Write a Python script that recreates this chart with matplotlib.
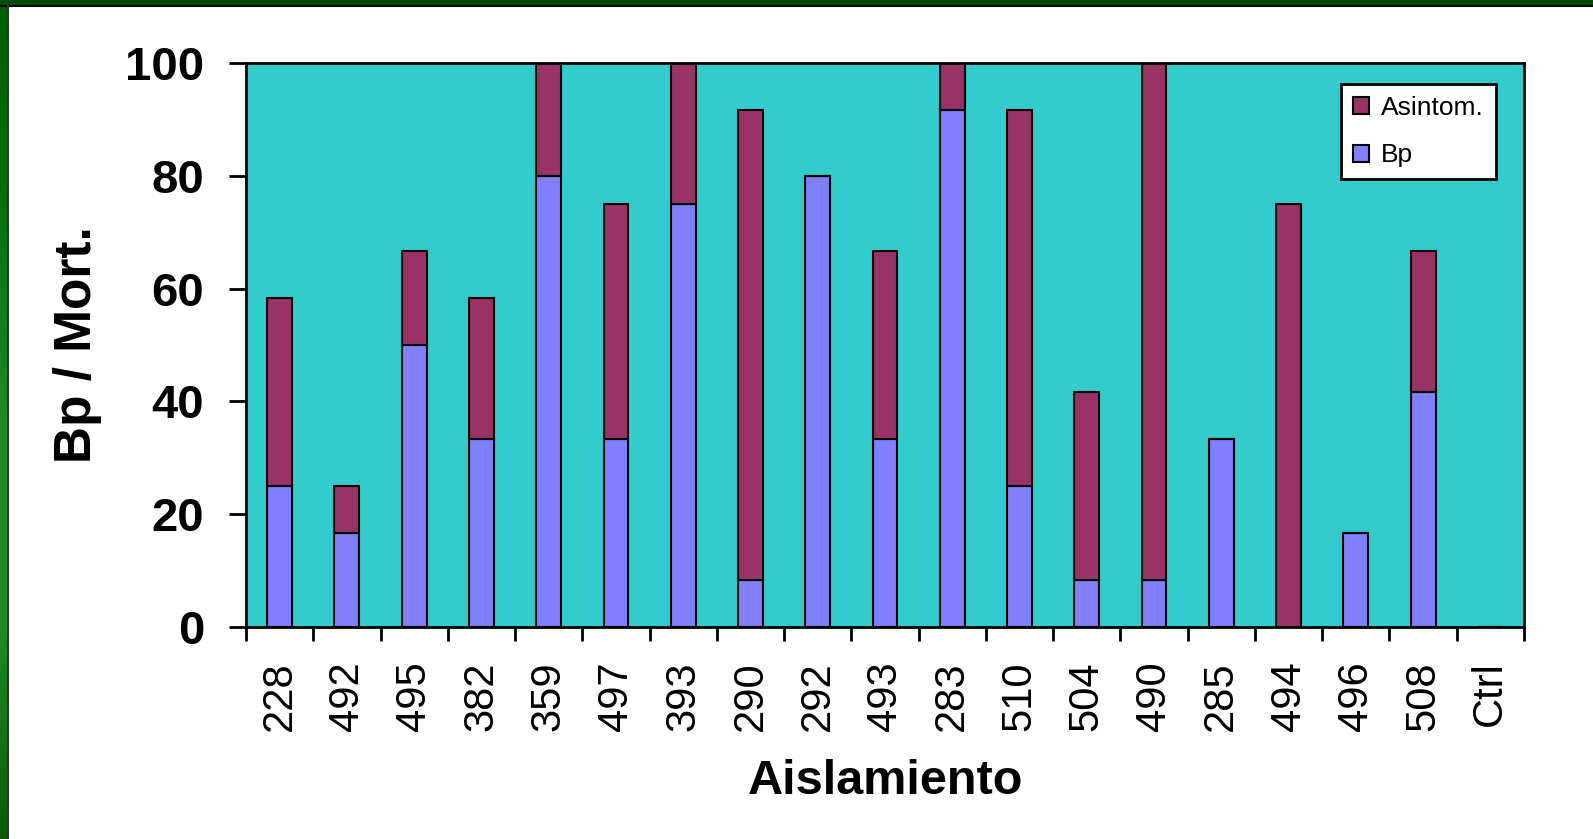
import numpy as np
import matplotlib
matplotlib.use('Agg')
from matplotlib import pyplot as plt
from matplotlib.patches import Rectangle
from matplotlib.colors import LinearSegmentedColormap

plt.rcParams['font.family'] = ['Liberation Sans', 'DejaVu Sans']

# isolates on the x axis
aislamientos = ['228', '492', '495', '382', '359', '497', '393', '290', '292',
                '493', '283', '510', '504', '490', '285', '494', '496', '508', 'Ctrl']
# percentage of plants with Bp symptoms
bp = [25.0, 16.7, 50.0, 33.3, 80.0, 33.3, 75.0, 8.3, 80.0,
      33.3, 91.7, 25.0, 8.3, 8.3, 33.3, 0.0, 16.7, 41.7, 0.0]
# percentage of asymptomatic (stacked on top of Bp)
asintom = [33.3, 8.3, 16.7, 25.0, 20.0, 41.7, 25.0, 83.4, 0.0,
           33.4, 8.3, 66.7, 33.4, 91.7, 0.0, 75.0, 0.0, 25.0, 0.0]

fig = plt.figure(figsize=(15.93, 8.39), dpi=100)
fig.patch.set_facecolor('white')

# green slide frame along the top and left edges
fig.patches.append(Rectangle((0, 1 - 5/839), 1, 5/839, transform=fig.transFigure,
                             facecolor='#004a00', edgecolor='none', zorder=0))
fig.patches.append(Rectangle((0, 1 - 7/839), 1, 2/839, transform=fig.transFigure,
                             facecolor='black', edgecolor='none', zorder=0))
grad_ax = fig.add_axes([0, 0, 7/1593, 1 - 5/839])
grad = np.linspace(0, 1, 256).reshape(-1, 1)
cmap = LinearSegmentedColormap.from_list('frame', ['#006000', '#0a7010', '#1e8c22', '#1e8c22', '#0a5a0a'])
grad_ax.imshow(grad, aspect='auto', cmap=cmap, origin='upper')
grad_ax.axis('off')
fig.patches.append(Rectangle((7/1593, 0), 2/1593, 1 - 5/839, transform=fig.transFigure,
                             facecolor='#333333', edgecolor='none', zorder=0))

ax = fig.add_axes([246/1593, 1 - 627/839, (1524 - 246)/1593, (627 - 63)/839])
ax.set_facecolor('#33CCCC')

x = np.arange(len(aislamientos))
w = 0.37
b1 = ax.bar(x, bp, width=w, color='#8080FF', edgecolor='black', linewidth=1.5, label='Bp', zorder=2)
b2 = ax.bar(x, asintom, width=w, bottom=bp, color='#993366', edgecolor='black', linewidth=1.5,
            label='Asintom.', zorder=2)

ax.set_xlim(-0.5, len(aislamientos) - 0.5)
ax.set_ylim(0, 100)
ax.set_yticks([0, 20, 40, 60, 80, 100])
ax.set_xticks(x)
ax.set_xticklabels(aislamientos, rotation=90, fontsize=30)
ax.tick_params(axis='x', length=0, pad=25)
# category boundary ticks, Excel style
ax.set_xticks(np.arange(-0.5, len(aislamientos)), minor=True)
ax.tick_params(axis='x', which='minor', length=10, width=2, direction='out')
ax.tick_params(axis='y', length=12, width=2, direction='out', pad=18)
for lab in ax.get_yticklabels():
    lab.set_fontsize(34)
    lab.set_fontweight('bold')

for s in ax.spines.values():
    s.set_linewidth(2)
    s.set_color('black')

ax.set_xlabel('Aislamiento', fontsize=35, fontweight='bold', labelpad=20)
ax.set_ylabel('Bp / Mort.', fontsize=37, fontweight='bold', labelpad=17)

leg = ax.legend([b2, b1], ['Asintom.', 'Bp'], loc='upper right', bbox_to_anchor=(0.978, 0.963),
                fontsize=19, frameon=True, fancybox=False, framealpha=1, edgecolor='black',
                handlelength=0.62, handleheight=0.62, handletextpad=0.45, labelspacing=0.9,
                borderpad=0.45, borderaxespad=0)
leg.get_frame().set_linewidth(2)

fig.savefig('out.png', dpi=100, facecolor='white')
